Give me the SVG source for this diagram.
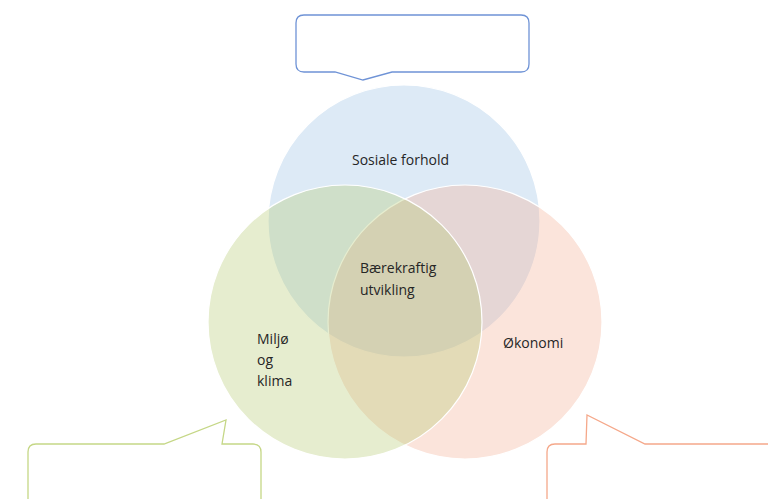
<svg xmlns="http://www.w3.org/2000/svg" width="768" height="499" viewBox="0 0 768 499">
  <style>
    .ring { stroke: #ffffff; stroke-width: 1.2; }
    .label { font-family: "Open Sans", "Liberation Sans", sans-serif; font-size: 14px; fill: #262626; }
    .callout { fill: #ffffff; stroke-width: 1.3; stroke-linejoin: miter; }
  </style>
  <rect width="768" height="499" fill="#ffffff"/>

  <!-- Venn circles -->
  <g id="sosiale">
    <circle class="ring" cx="404" cy="221" r="136" fill="rgb(157,195,230)" fill-opacity="0.35"/>
  </g>
  <g id="okonomi">
    <circle class="ring" cx="465" cy="322" r="137" fill="rgb(244,177,153)" fill-opacity="0.35"/>
  </g>
  <g id="miljo">
    <circle class="ring" cx="345" cy="322" r="137" fill="rgb(180,200,110)" fill-opacity="0.33"/>
  </g>

  <!-- Labels -->
  <g id="labels">
    <text class="label" x="352" y="165">Sosiale forhold</text>
    <text class="label" x="360" y="273">Bærekraftig</text>
    <text class="label" x="360" y="295">utvikling</text>
    <text class="label" x="257" y="344">Miljø</text>
    <text class="label" x="257" y="365">og</text>
    <text class="label" x="257" y="386">klima</text>
    <text class="label" x="503" y="348">Økonomi</text>
  </g>

  <!-- Callout boxes -->
  <g id="callout-top">
    <path class="callout" stroke="#6f93d6" d="M304,15 H521 Q529,15 529,23 V64 Q529,72 521,72 H392 L363,80 L335,72 H304 Q296,72 296,64 V23 Q296,15 304,15 Z"/>
  </g>
  <g id="callout-left">
    <path class="callout" stroke="#c5d786" d="M36,444 H164 L226,420 L222,444 H253 Q261,444 261,452 V510 H28 V452 Q28,444 36,444 Z"/>
  </g>
  <g id="callout-right">
    <path class="callout" stroke="#f5a88a" d="M555,444 H586 L587,415 L645,444 H780 V510 H547 V452 Q547,444 555,444 Z"/>
  </g>
</svg>
